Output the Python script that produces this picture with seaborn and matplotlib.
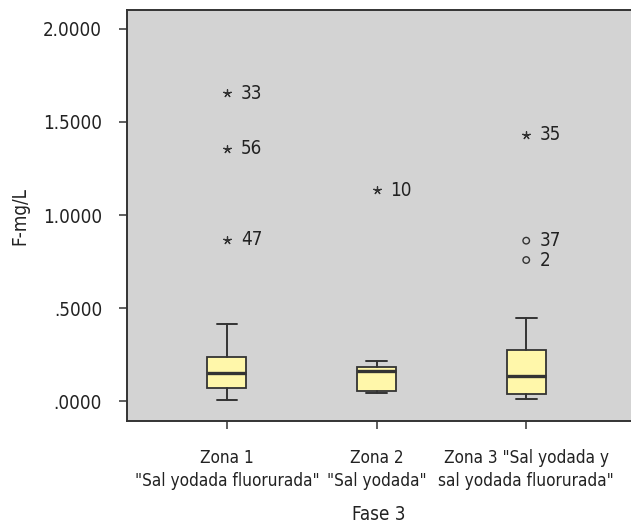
import matplotlib
matplotlib.use("Agg")
import matplotlib.pyplot as plt
import seaborn as sns
import pandas as pd

# Box summary per zone (F mg/L)
zonas = ['Zona 1\n"Sal yodada fluorurada"',
         'Zona 2\n"Sal yodada"',
         'Zona 3 "Sal yodada y\nsal yodada fluorurada"']
whisker_low = [0.005, 0.045, 0.012]
q1 = [0.070, 0.055, 0.036]
mediana = [0.149, 0.163, 0.134]
q3 = [0.237, 0.184, 0.272]
whisker_high = [0.414, 0.215, 0.446]

# Atypical values (circles) and extreme values (asterisks), with case ids
extremos_zona = [0, 0, 0, 1, 2]
extremos_valor = [1.654, 1.355, 0.866, 1.134, 1.430]
extremos_caso = ["33", "56", "47", "10", "35"]
atipicos_zona = [2, 2]
atipicos_valor = [0.862, 0.758]
atipicos_caso = ["37", "2"]

yticks = [0.0, 0.5, 1.0, 1.5, 2.0]
ytick_labels = [".0000", ".5000", "1.0000", "1.5000", "2.0000"]

sns.set_theme(style="white")
plt.rcParams["font.family"] = ["DejaVu Sans"]
plt.rcParams["font.stretch"] = "condensed"

BG = "#d3d3d3"
BOX = "#fff7aa"
LINE = "#333333"
TXT = "#222222"
FS = 13.5
FS_CAT = 12.3

fig = plt.figure(figsize=(6.31, 5.25), dpi=100)
ax = fig.add_axes([0.2013, 0.198, 0.7987, 0.783])
ax.set_facecolor(BG)

stats = []
for i in range(len(zonas)):
    stats.append(dict(med=mediana[i], q1=q1[i], q3=q3[i],
                      whislo=whisker_low[i], whishi=whisker_high[i],
                      fliers=[], label=zonas[i]))

ax.bxp(stats, positions=range(len(zonas)), widths=0.262, capwidths=0.138,
       showfliers=False, patch_artist=True,
       boxprops=dict(facecolor=BOX, edgecolor=LINE, linewidth=1.3),
       medianprops=dict(color=LINE, linewidth=2.4),
       whiskerprops=dict(color=LINE, linewidth=1.4),
       capprops=dict(color=LINE, linewidth=1.4))

ext = pd.DataFrame({"zona": extremos_zona, "valor": extremos_valor, "caso": extremos_caso})
ati = pd.DataFrame({"zona": atipicos_zona, "valor": atipicos_valor, "caso": atipicos_caso})

sns.scatterplot(data=ext, x="zona", y="valor", marker=(5, 2, 0), s=30,
                color=LINE, linewidth=0.9, ax=ax, zorder=5, legend=False)
sns.scatterplot(data=ati, x="zona", y="valor", marker="o", s=22,
                facecolor="none", edgecolor=LINE, linewidth=1.0, ax=ax,
                zorder=5, legend=False)

for df in (ext, ati):
    for _, r in df.iterrows():
        ax.annotate(r["caso"], (r["zona"], r["valor"]), xytext=(10, 0),
                    textcoords="offset points", va="center", ha="left",
                    fontsize=FS, color=TXT)

ax.set_xlim(-0.667, 2.7)
ax.set_ylim(-0.1075, 2.102)
ax.set_xticks(range(len(zonas)))
ax.set_xticklabels(zonas, fontsize=FS_CAT, color=TXT, linespacing=1.35)
ax.set_yticks(yticks)
ax.set_yticklabels(ytick_labels, fontsize=FS, color=TXT)
ax.tick_params(axis="both", which="both", direction="out", length=6,
               width=1.1, color=LINE, left=True, bottom=True)
ax.tick_params(axis="y", pad=12)
ax.tick_params(axis="x", pad=14)

for side in ("left", "top", "bottom"):
    ax.spines[side].set_color(LINE)
    ax.spines[side].set_linewidth(1.4)
ax.spines["right"].set_visible(False)

ax.set_xlabel("Fase 3", fontsize=FS, color=TXT, labelpad=11)
ax.set_ylabel("F-mg/L", fontsize=FS, color=TXT, labelpad=10)

fig.savefig("out.png", dpi=100, facecolor="white")
